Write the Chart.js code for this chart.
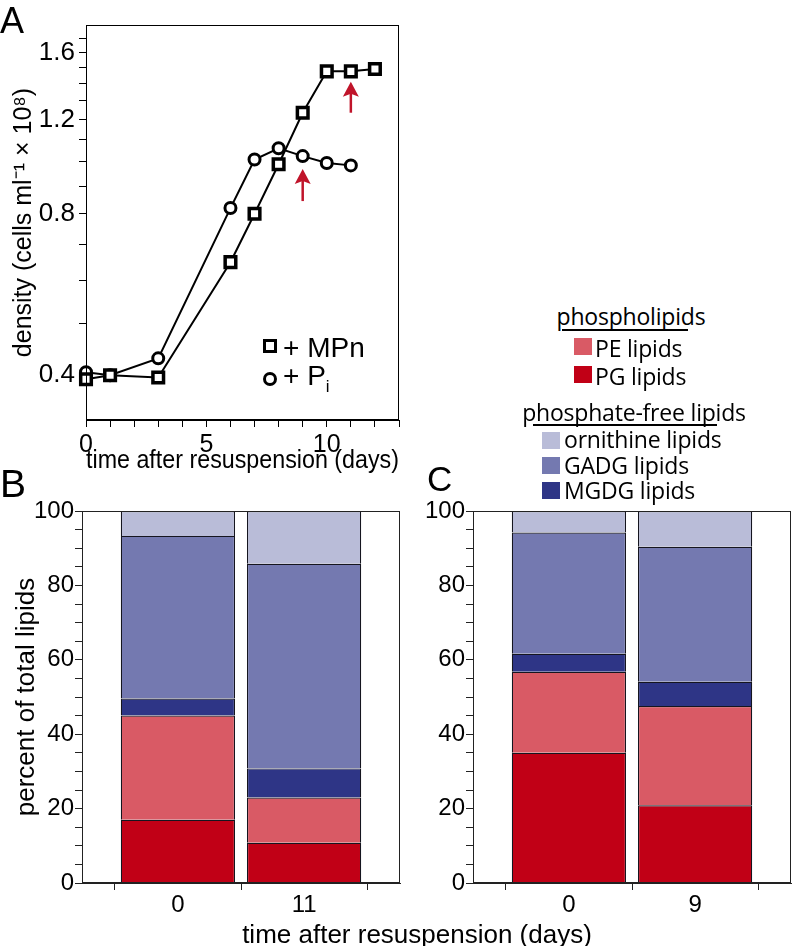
<!DOCTYPE html>
<html>
<head>
<meta charset="utf-8">
<script src="https://cdn.jsdelivr.net/npm/chart.js@4.4.1/dist/chart.umd.min.js"></script>
<style>
  body { margin: 0; background: #fff; }
  #page { position: relative; width: 793px; height: 946px; overflow: hidden; font-family: 'Liberation Sans', Arial, sans-serif; color: #000; }
  .box { position: absolute; }
  .txt { position: absolute; white-space: nowrap; height: 30px; line-height: 30px; }
  .panel { position: absolute; line-height: 1; }
  .leg { font-family: 'Open Sans', sans-serif; font-size: 23px; letter-spacing: -0.2px; }
  .sw { position: absolute; width: 18px; height: 17px; }
  .rule { position: absolute; height: 1.5px; background: #000; }
  .mk { position: absolute; box-sizing: border-box; width: 14px; height: 14px; border: 3.5px solid #000; background: #fff; }
  .mk.ci { border-radius: 50%; border-width: 3px; }
  sub { font-size: 17px; line-height: 0; vertical-align: -7px; }
</style>
</head>
<body>
<div id="page">
  <div class="box" style="left:0;top:0;width:410px;height:480px"><canvas id="growthChart"></canvas></div>
  <div class="box" style="left:0;top:480px;width:410px;height:440px"><canvas id="lipidsB"></canvas></div>
  <div class="box" style="left:400px;top:480px;width:393px;height:440px"><canvas id="lipidsC"></canvas></div>

  <div class="panel" style="left:0;top:3px;font-size:36px">A</div>
  <div class="panel" style="left:0;top:464px;font-size:39px">B</div>
  <div class="panel" style="left:427px;top:461px;font-size:35px">C</div>

  <!-- legend of panel A -->
  <div class="mk" style="left:263px;top:339px"></div>
  <div class="txt" style="left:283px;top:333px;font-size:28px">+ MPn</div>
  <div class="mk ci" style="left:263px;top:372px"></div>
  <div class="txt" style="left:283px;top:361px;font-size:28px">+ P<sub>i</sub></div>

  <!-- lipid legend -->
  <div class="txt leg" style="left:521px;width:220px;text-align:center;top:301px">phospholipids</div>
  <div class="rule" style="left:562px;width:126px;top:329px"></div>
  <div class="sw" style="left:574px;top:338px;background:#d95a65"></div>
  <div class="txt leg" style="left:595px;top:333px">PE lipids</div>
  <div class="sw" style="left:574px;top:366px;background:#c10016"></div>
  <div class="txt leg" style="left:595px;top:361px">PG lipids</div>
  <div class="txt leg" style="left:504px;width:260px;text-align:center;top:397px">phosphate-free lipids</div>
  <div class="rule" style="left:533px;width:184px;top:424px"></div>
  <div class="sw" style="left:542px;top:432px;background:#b9bcd8"></div>
  <div class="txt leg" style="left:564px;top:424px">ornithine lipids</div>
  <div class="sw" style="left:542px;top:457px;background:#7479b0"></div>
  <div class="txt leg" style="left:564px;top:450px">GADG lipids</div>
  <div class="sw" style="left:542px;top:482px;background:#2e3586"></div>
  <div class="txt leg" style="left:564px;top:475px">MGDG lipids</div>

  <div class="txt" style="left:217px;width:400px;text-align:center;top:919px;font-size:26px">time after resuspension (days)</div>
</div>

<script>
// ---- panel A: growth curves ----
const mpnDays = [0, 1, 3, 6, 7, 8, 9, 10, 11, 12];
const mpnDensity = [0.393, 0.40, 0.396, 0.65, 0.80, 0.99, 1.235, 1.475, 1.475, 1.49];
const piDays = [0, 1, 3, 6, 7, 8, 9, 10, 11];
const piDensity = [0.405, 0.40, 0.43, 0.82, 1.01, 1.06, 1.025, 0.995, 0.985];
const densityTicks = [0.4, 0.5, 0.6, 0.7, 0.8, 0.9, 1.0, 1.1, 1.2, 1.3, 1.4, 1.5, 1.6, 1.7];
const densityLabels = [0.4, 0.8, 1.2, 1.6];
const dayLabels = [0, 5, 10];
// sampling arrows: day, tail and tip density
const arrowDays = [9, 11];
const arrowTail = [0.845, 1.235];
const arrowTip = [0.97, 1.41];

// ---- panels B and C: lipid composition (% of total) ----
const lipidNames = ['PG lipids', 'PE lipids', 'MGDG lipids', 'GADG lipids', 'ornithine lipids'];
const lipidColors = ['#c10016', '#d95a65', '#2e3586', '#7479b0', '#b9bcd8'];
const daysB = ['0', '11'];
const pgB = [17.0, 10.8];
const peB = [28.0, 12.2];
const mgdgB = [4.6, 7.8];
const gadgB = [43.7, 55.0];
const ornB = [6.7, 14.2];
const daysC = ['0', '9'];
const pgC = [35.0, 20.9];
const peC = [21.8, 26.7];
const mgdgC = [4.8, 6.5];
const gadgC = [32.6, 36.3];
const ornC = [5.8, 9.6];

const fontFamily = "'Liberation Sans', Arial, sans-serif";

// box around the plot area
const framePlugin = {
    id: 'frame',
    afterDraw(chart, args, opts) {
        const { ctx, chartArea: a } = chart;
        ctx.save();
        ctx.strokeStyle = opts.color || '#000';
        ctx.lineWidth = 1;
        ctx.strokeRect(Math.round(a.left) + 0.5, Math.round(a.top) + 0.5,
            Math.round(a.right - a.left) - 1, Math.round(a.bottom - a.top) - 1);
        ctx.restore();
    }
};

const arrowPlugin = {
    id: 'arrows',
    afterDatasetsDraw(chart) {
        const { ctx, scales: { x, y } } = chart;
        ctx.save();
        ctx.strokeStyle = '#c0142a';
        ctx.fillStyle = '#c0142a';
        ctx.lineWidth = 2.5;
        arrowDays.forEach((d, i) => {
            const px = x.getPixelForValue(d);
            const y0 = y.getPixelForValue(arrowTail[i]);
            const y1 = y.getPixelForValue(arrowTip[i]);
            ctx.beginPath();
            ctx.moveTo(px, y0);
            ctx.lineTo(px, y1 + 10);
            ctx.stroke();
            ctx.beginPath();
            ctx.moveTo(px, y1);
            ctx.lineTo(px - 8, y1 + 15);
            ctx.lineTo(px, y1 + 12);
            ctx.lineTo(px + 8, y1 + 15);
            ctx.closePath();
            ctx.fill();
        });
        ctx.restore();
    }
};

new Chart(document.getElementById('growthChart'), {
    type: 'line',
    data: {
        datasets: [{
            label: '+ MPn',
            data: mpnDays.map((d, i) => ({ x: d, y: mpnDensity[i] })),
            borderColor: '#000',
            borderWidth: 2,
            pointStyle: 'rect',
            pointRadius: 7.5,
            pointBorderWidth: 3.5,
            pointBackgroundColor: '#fff',
            pointBorderColor: '#000',
            tension: 0,
            clip: false
        }, {
            label: '+ Pi',
            data: piDays.map((d, i) => ({ x: d, y: piDensity[i] })),
            borderColor: '#000',
            borderWidth: 2,
            pointStyle: 'circle',
            pointRadius: 5.5,
            pointBorderWidth: 3,
            pointBackgroundColor: '#fff',
            pointBorderColor: '#000',
            tension: 0,
            clip: false
        }]
    },
    options: {
        responsive: true,
        maintainAspectRatio: false,
        animation: false,
        layout: { padding: { top: 25, right: 10, left: 0, bottom: 0 } },
        plugins: {
            legend: { display: false },
            tooltip: { enabled: false },
            frame: { color: '#000' }
        },
        scales: {
            x: {
                type: 'linear',
                min: 0,
                max: 13,
                afterFit: s => { s.height = 60; },
                ticks: {
                    stepSize: 1,
                    autoSkip: false,
                    maxRotation: 0,
                    padding: 3,
                    color: '#000',
                    font: { family: fontFamily, size: 25 },
                    callback: v => dayLabels.includes(v) ? String(v) : ''
                },
                grid: { drawOnChartArea: false, tickLength: 7, tickColor: '#000' },
                border: { color: '#000' },
                title: {
                    display: true,
                    text: 'time after resuspension (days)',
                    color: '#000',
                    font: { family: fontFamily, size: 25 },
                    padding: { top: 0, bottom: 4 }
                }
            },
            y: {
                type: 'logarithmic',
                min: 0.33,
                max: 1.8,
                bounds: 'data', // keep 0.33 instead of rounding down to 0.3
                afterBuildTicks: s => { s.ticks = densityTicks.map(v => ({ value: v })); },
                afterFit: s => { s.width = 86; },
                ticks: {
                    autoSkip: false,
                    padding: 4,
                    color: '#000',
                    font: { family: fontFamily, size: 26 },
                    callback: v => densityLabels.some(l => Math.abs(l - v) < 1e-6) ? v.toFixed(1) : ''
                },
                grid: { drawOnChartArea: false, tickLength: 7, tickColor: '#000' },
                border: { color: '#000' },
                title: {
                    display: true,
                    text: 'density (cells ml\u207B\u00B9 \u00D7 10\u2078)',
                    color: '#000',
                    font: { family: fontFamily, size: 25 },
                    padding: { top: 9, bottom: 0 }
                }
            }
        }
    },
    plugins: [framePlugin, arrowPlugin]
});

function lipidChart(id, days, series, yTitle, yWidth, padRight) {
    return new Chart(document.getElementById(id), {
        type: 'bar',
        data: {
            labels: days.map((d, i) => i),
            datasets: series.map((vals, k) => ({
                label: lipidNames[k],
                data: vals,
                backgroundColor: lipidColors[k],
                borderColor: '#15151f',
                borderWidth: 1.2,
                // the x ticks sit every half category, so the ruler is half a category wide
                barPercentage: 0.905 * 2,
                categoryPercentage: 1
            }))
        },
        options: {
            responsive: true,
            maintainAspectRatio: false,
            animation: false,
            layout: { padding: { top: 31, right: padRight, left: 0, bottom: 0 } },
            plugins: {
                legend: { display: false },
                tooltip: { enabled: false },
                frame: { color: '#222' }
            },
            scales: {
                x: {
                    type: 'linear',
                    stacked: true,
                    min: -0.76,
                    max: 1.76,
                    offset: false,
                    afterBuildTicks: s => { s.ticks = [-0.5, 0, 0.5, 1, 1.5].map(v => ({ value: v })); },
                    afterFit: s => { s.height = 37; },
                    ticks: {
                        autoSkip: false,
                        maxRotation: 0,
                        padding: 1,
                        color: '#000',
                        font: { family: fontFamily, size: 24 },
                        callback: v => Number.isInteger(v) ? days[v] : ''
                    },
                    grid: {
                        offset: false,
                        drawOnChartArea: false,
                        tickLength: 7,
                        tickColor: c => Number.isInteger(c.tick.value) ? 'rgba(0,0,0,0)' : '#222'
                    },
                    border: { color: '#222' }
                },
                y: {
                    stacked: true,
                    min: 0,
                    max: 100,
                    afterFit: s => { s.width = yWidth; },
                    ticks: {
                        stepSize: 5,
                        autoSkip: false,
                        padding: 1,
                        color: '#000',
                        font: { family: fontFamily, size: 24 },
                        callback: v => v % 20 === 0 ? String(v) : ''
                    },
                    grid: { drawOnChartArea: false, tickLength: 7, tickColor: '#222' },
                    border: { color: '#222' },
                    title: {
                        display: !!yTitle,
                        text: yTitle,
                        color: '#000',
                        font: { family: fontFamily, size: 26 },
                        padding: { top: 11, bottom: 0 }
                    }
                }
            }
        },
        plugins: [framePlugin]
    });
}

lipidChart('lipidsB', daysB, [pgB, peB, mgdgB, gadgB, ornB], 'percent of total lipids', 82, 10);
lipidChart('lipidsC', daysC, [pgC, peC, mgdgC, gadgC, ornC], '', 73, 2);
</script>
</body>
</html>
